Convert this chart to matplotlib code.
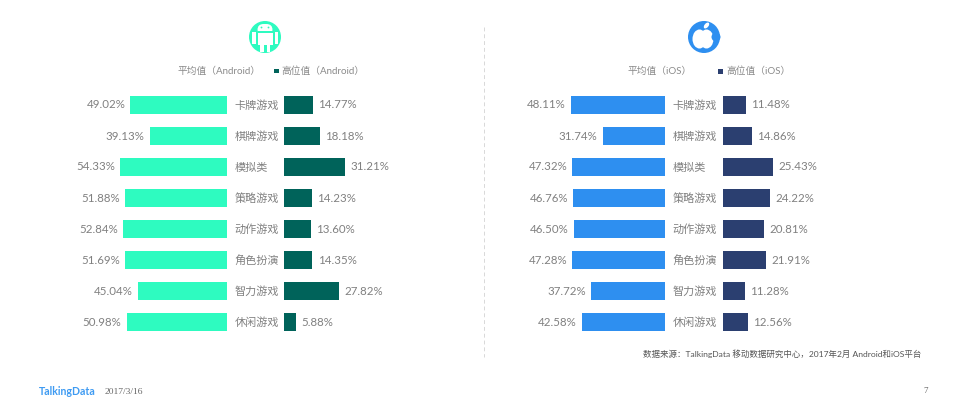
# Android / iOS game category comparison, two mirrored bar panels
import matplotlib
matplotlib.use('Agg')
import matplotlib.pyplot as plt
from matplotlib.patches import Circle, Rectangle, FancyBboxPatch, Wedge, Ellipse

plt.rcParams['font.family'] = ['Lato', 'Noto Sans CJK SC', 'DejaVu Sans']

categories = ['卡牌游戏', '棋牌游戏', '模拟类', '策略游戏', '动作游戏', '角色扮演', '智力游戏', '休闲游戏']
android_avg = [49.02, 39.13, 54.33, 51.88, 52.84, 51.69, 45.04, 50.98]
android_high = [14.77, 18.18, 31.21, 14.23, 13.60, 14.35, 27.82, 5.88]
ios_avg = [48.11, 31.74, 47.32, 46.76, 46.50, 47.28, 37.72, 42.58]
ios_high = [11.48, 14.86, 25.43, 24.22, 20.81, 21.91, 11.28, 12.56]

W, H = 968, 415
TEAL = '#2efbc0'
DARK_TEAL = '#00635a'
BLUE = '#2e8ff0'
NAVY = '#2b3f70'
GREY = '#808080'

fig = plt.figure(figsize=(W / 100, H / 100), dpi=100)

# overlay in pixel coords for icons, legend and footer
bg = fig.add_axes([0, 0, 1, 1])
bg.set_xlim(0, W)
bg.set_ylim(H, 0)
bg.axis('off')


def panel(x_right, x_left, avg, high, col_avg, col_high, scale):
    max_pct = 70
    y0, y1 = 89.5, 337.5
    # left bars grow leftwards from x_right
    ax1 = fig.add_axes([(x_right - max_pct * scale) / W, 1 - y1 / H, max_pct * scale / W, (y1 - y0) / H])
    ax1.barh(range(len(avg)), avg, height=0.58, color=col_avg)
    ax1.set_xlim(max_pct, 0)
    ax1.set_ylim(len(avg) - 0.5, -0.5)
    ax1.axis('off')
    for i, v in enumerate(avg):
        ax1.text(v + 2.6, i, f'{v:.2f}%', ha='right', va='center', fontsize=8.3, color=GREY)
    # right bars
    ax2 = fig.add_axes([x_left / W, 1 - y1 / H, max_pct * scale / W, (y1 - y0) / H])
    ax2.barh(range(len(high)), high, height=0.58, color=col_high)
    ax2.set_xlim(0, max_pct)
    ax2.set_ylim(len(high) - 0.5, -0.5)
    ax2.axis('off')
    for i, v in enumerate(high):
        ax2.text(v + 2.7, i, f'{v:.2f}%', ha='left', va='center', fontsize=8.3, color=GREY)
    # category labels between the bars, left aligned
    for i, c in enumerate(categories):
        bg.text(x_right + 7.5, y0 + 31 * (i + 0.5), c, ha='left', va='center', fontsize=8, color=GREY)


panel(227, 284, android_avg, android_high, TEAL, DARK_TEAL, 1.97)
panel(665, 723, ios_avg, ios_high, BLUE, NAVY, 1.96)

# divider
bg.plot([484, 484], [27, 357], color='#d8d8d8', lw=0.7, ls=(0, (4, 3)))

# android icon
bg.add_patch(Circle((265, 37), 16, color=TEAL, lw=0))
bg.add_patch(Wedge((265, 31), 9, 180, 360, color=TEAL, lw=0))
bg.add_patch(FancyBboxPatch((257.5, 24), 15, 11, boxstyle='round,pad=0,rounding_size=6', color='white', lw=0))
bg.add_patch(Rectangle((257.5, 31), 15, 2, color=TEAL, lw=0))
bg.add_patch(Circle((261.5, 27.5), 0.9, color=TEAL, lw=0))
bg.add_patch(Circle((268.5, 27.5), 0.9, color=TEAL, lw=0))
bg.add_patch(Rectangle((257.5, 33), 15, 12, color='white', lw=0))
bg.add_patch(Rectangle((252, 32), 3.5, 12, color='white', lw=0))
bg.add_patch(Rectangle((274.5, 32), 3.5, 12, color='white', lw=0))
bg.add_patch(Rectangle((260, 45), 3.5, 7, color='white', lw=0))
bg.add_patch(Rectangle((266.5, 45), 3.5, 7, color='white', lw=0))

# apple icon
bg.add_patch(Circle((704, 37), 16, color=BLUE, lw=0))
bg.add_patch(Ellipse((699.5, 39), 14, 19, color='white', lw=0))
bg.add_patch(Ellipse((706.5, 39), 14, 19, color='white', lw=0))
bg.add_patch(Circle((716, 37), 4.5, color=BLUE, lw=0))
bg.add_patch(Ellipse((706.5, 25.5), 4, 7, angle=40, color='white', lw=0))

# legends
bg.text(178, 71, '平均值（Android）', ha='left', va='center', fontsize=7, color='#8a8a8a')
bg.add_patch(Rectangle((274, 69), 4.5, 4.5, color=DARK_TEAL, lw=0))
bg.text(281, 71, '高位值（Android）', ha='left', va='center', fontsize=7, color='#8a8a8a')
bg.text(628, 71, '平均值（iOS）', ha='left', va='center', fontsize=7, color='#8a8a8a')
bg.add_patch(Rectangle((718, 69), 5, 5, color=NAVY, lw=0))
bg.text(726, 71, '高位值（iOS）', ha='left', va='center', fontsize=7, color='#8a8a8a')

# footer
bg.text(921, 354, '数据来源：TalkingData 移动数据研究中心，2017年2月 Android和iOS平台',
        ha='right', va='center', fontsize=6.1, color='#555555')
bg.text(39, 391, 'TalkingData', ha='left', va='center', fontsize=7.6, color='#3f9bf2', fontweight='bold')
bg.text(105, 392, '2017/3/16', ha='left', va='center', fontsize=6.8, color='#666666', family='Liberation Serif')
bg.text(926, 391, '7', ha='center', va='center', fontsize=6.5, color='#666666', family='Liberation Serif')

fig.savefig('out.png', dpi=100)
